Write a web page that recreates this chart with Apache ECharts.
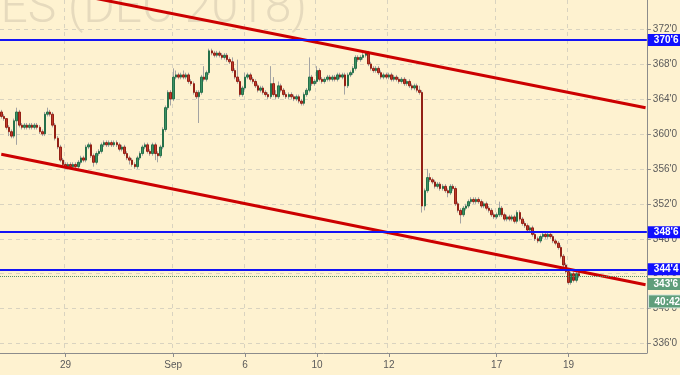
<!DOCTYPE html>
<html><head><meta charset="utf-8">
<script src="https://cdn.jsdelivr.net/npm/echarts@6/dist/echarts.min.js"></script>
<style>html,body{margin:0;padding:0;background:#fef2d0}#c{width:680px;height:375px}</style>
</head><body><div id="c"></div>
<script>
// ---- data ----
const dayLabels = ['29', 'Sep', '6', '10', '12', '17', '19'];
const labelSlots = [25, 67, 95, 123, 151, 193, 221];
const slotCount = 252;
const yTicks = [336, 340, 344, 348, 352, 356, 360, 364, 368, 372];
const yMin = 334.93, yMax = 375.32;
const levels = [370.75, 348.75, 344.5];
const lastPrice = 343.75;
const timerText = '40:42';
const watermark = 'CORN FUTURES (DEC 2018)';
const trendSlots = [0, 251];
const upperTrend = [377.65, 363.0];
const lowerTrend = [357.66, 342.73];

const opens = [
362.5,362.0,361.75,360.75,360.25,359.75,361.5,362.5,361.0,360.75,
361.0,360.75,361.0,360.75,361.0,360.75,360.25,360.0,362.25,362.5,
362.25,361.0,359.5,358.5,357.0,356.5,356.25,356.5,356.25,356.5,
356.25,356.75,357.25,357.0,358.5,358.75,357.5,356.75,357.75,358.0,
358.75,359.0,358.75,359.0,358.75,359.0,358.75,358.25,358.5,357.75,
357.25,357.0,356.5,356.25,357.25,357.75,358.5,358.75,358.0,357.75,
358.75,357.75,357.5,358.5,360.5,363.0,364.75,364.0,366.5,366.75,
366.5,366.75,366.5,366.75,366.0,365.75,364.75,364.25,364.75,366.5,
366.25,367.0,369.5,369.25,369.0,369.25,369.0,368.75,369.0,368.5,
368.25,367.25,366.5,366.0,364.5,365.25,366.5,366.75,366.25,366.0,
365.5,365.0,365.25,364.75,364.5,364.25,365.75,364.5,364.25,365.5,
365.0,364.5,364.25,364.5,364.25,364.0,364.25,363.75,363.5,364.5,
365.0,366.5,365.75,366.0,367.25,366.25,366.0,366.25,366.5,366.25,
366.5,366.25,366.75,366.5,366.75,365.5,366.75,367.0,367.5,368.75,
368.5,368.75,369.0,369.25,368.0,367.5,367.25,367.5,367.0,366.5,
366.75,366.5,366.75,366.25,366.5,366.25,366.0,366.25,365.75,366.0,
365.5,365.25,365.5,365.0,364.75,351.75,353.5,355.0,354.75,354.5,
354.0,354.25,353.75,354.0,353.5,353.25,354.0,353.75,352.0,351.25,
350.75,351.5,351.75,352.25,352.5,352.25,352.5,352.25,351.75,352.0,
351.5,351.25,350.75,350.5,350.75,351.5,350.75,350.25,350.5,350.25,
350.5,350.0,351.0,350.25,349.75,349.5,349.0,349.25,348.5,348.0,
347.75,348.25,348.5,348.25,348.5,348.25,347.75,347.5,347.0,346.0,
345.0,344.25,343.0,344.0,343.25,344.0
];
const closes = [
362.0,361.75,360.75,360.25,359.75,361.5,362.5,361.0,360.75,361.0,
360.75,361.0,360.75,361.0,360.75,360.25,360.0,362.25,362.5,362.25,
361.0,359.5,358.5,357.0,356.5,356.25,356.5,356.25,356.5,356.25,
356.75,357.25,357.0,358.5,358.75,357.5,356.75,357.75,358.0,358.75,
359.0,358.75,359.0,358.75,359.0,358.75,358.25,358.5,357.75,357.25,
357.0,356.5,356.25,357.25,357.75,358.5,358.75,358.0,357.75,358.75,
357.75,357.5,358.5,360.5,363.0,364.75,364.0,366.5,366.75,366.5,
366.75,366.5,366.75,366.0,365.75,364.75,364.25,364.75,366.5,366.25,
367.0,369.5,369.25,369.0,369.25,369.0,368.75,369.0,368.5,368.25,
367.25,366.5,366.0,364.5,365.25,366.5,366.75,366.25,366.0,365.5,
365.0,365.25,364.75,364.5,364.25,365.75,364.5,364.25,365.5,365.0,
364.5,364.25,364.5,364.25,364.0,364.25,363.75,363.5,364.5,365.0,
366.5,365.75,366.0,367.25,366.25,366.0,366.25,366.5,366.25,366.5,
366.25,366.75,366.5,366.75,365.5,366.75,367.0,367.5,368.75,368.5,
368.75,369.0,369.25,368.0,367.5,367.25,367.5,367.0,366.5,366.75,
366.5,366.75,366.25,366.5,366.25,366.0,366.25,365.75,366.0,365.5,
365.25,365.5,365.0,364.75,351.75,353.5,355.0,354.75,354.5,354.0,
354.25,353.75,354.0,353.5,353.25,354.0,353.75,352.0,351.25,350.75,
351.5,351.75,352.25,352.5,352.25,352.5,352.25,351.75,352.0,351.5,
351.25,350.75,350.5,350.75,351.5,350.75,350.25,350.5,350.25,350.5,
350.0,351.0,350.25,349.75,349.5,349.0,349.25,348.5,348.0,347.75,
348.25,348.5,348.25,348.5,348.25,347.75,347.5,347.0,346.0,345.0,
344.25,343.0,344.0,343.25,344.0,343.75
];
const lows = [
361.75,361.5,360.5,359.75,359.5,359.5,358.75,360.75,360.5,360.5,
360.5,360.5,360.5,360.5,360.5,360.0,359.75,359.75,362.0,362.0,
360.75,359.25,358.25,356.75,356.25,356.0,356.0,356.0,356.0,356.0,
356.0,356.5,356.75,356.75,358.25,357.25,356.25,356.5,357.5,357.75,
358.5,358.5,358.5,358.5,358.5,358.5,358.0,358.0,357.5,357.0,
356.5,356.25,356.0,356.0,357.0,357.5,358.25,357.75,357.5,357.5,
357.0,356.75,357.25,358.25,360.25,362.75,363.25,363.75,366.25,366.25,
366.25,366.25,366.25,365.75,365.5,364.5,364.0,361.25,364.5,366.0,
366.0,366.75,369.0,368.75,368.75,368.75,368.5,368.5,368.25,368.0,
367.0,366.25,365.75,364.25,364.25,365.0,366.25,366.0,365.75,365.25,
364.75,364.75,364.5,364.25,364.0,364.0,364.25,364.0,364.0,364.75,
364.25,364.0,364.0,364.0,363.75,363.75,363.5,363.25,363.25,364.25,
364.75,365.5,365.5,365.75,366.0,365.75,365.75,366.0,366.0,366.0,
366.0,366.0,366.25,366.25,364.5,365.25,366.5,366.75,367.25,368.25,
368.25,368.5,368.75,367.75,367.25,367.0,367.0,366.75,366.25,366.25,
366.25,366.25,366.0,366.0,366.0,365.75,365.75,365.5,365.5,365.25,
365.0,365.0,364.75,364.5,351.0,351.25,353.25,354.5,354.25,353.75,
353.75,353.5,353.5,353.25,352.75,353.0,353.5,351.75,351.0,349.75,
350.5,351.25,351.5,352.0,352.0,352.0,352.0,351.5,351.5,351.25,
351.0,350.5,350.25,350.25,350.5,350.5,350.0,350.0,350.0,350.0,
349.75,349.75,350.0,349.5,349.25,348.75,348.75,348.25,347.75,347.5,
347.5,348.0,348.0,348.0,348.0,347.5,347.25,346.75,345.75,344.75,
344.0,342.75,342.75,343.0,343.0,343.5
];
const highs = [
362.75,362.25,361.75,361.0,360.5,361.75,363.0,362.75,361.25,361.25,
361.25,361.25,361.25,361.25,361.25,361.0,360.5,362.5,363.0,362.75,
362.5,361.25,359.75,358.75,357.25,356.75,356.75,356.75,356.75,356.75,
357.0,357.5,357.5,358.75,359.0,359.0,357.75,358.0,358.25,359.0,
359.25,359.25,359.25,359.25,359.25,359.25,359.0,358.75,358.75,358.0,
357.5,357.25,356.75,357.5,358.0,358.75,359.0,359.0,358.25,359.0,
359.0,358.0,358.75,360.75,363.25,365.0,365.0,367.5,367.25,367.0,
367.0,367.25,367.0,367.0,366.25,366.0,365.0,365.0,366.75,367.75,
367.25,369.75,369.75,369.5,369.5,369.5,369.25,369.25,369.25,368.75,
368.75,367.5,368.5,366.25,365.5,367.0,367.0,367.0,366.5,366.25,
365.75,365.5,365.5,365.0,364.75,367.75,366.5,365.0,366.0,365.75,
365.25,364.75,364.75,364.75,364.5,364.5,364.5,364.0,364.75,365.25,
368.75,366.75,366.25,367.75,367.5,366.5,366.5,366.75,366.75,366.75,
366.75,367.0,367.0,367.0,367.0,367.0,367.25,367.75,369.0,369.0,
369.0,369.25,369.5,369.5,368.25,367.75,367.75,367.75,367.25,367.0,
367.0,367.0,367.0,366.75,366.75,366.5,366.5,366.5,366.25,366.25,
365.75,365.75,365.75,365.5,365.0,353.75,356.0,355.5,355.0,354.75,
354.5,354.5,354.25,354.25,353.75,354.25,354.25,354.0,352.25,351.5,
351.75,352.0,352.5,352.75,352.75,352.75,352.75,352.5,352.25,352.25,
351.75,351.5,351.0,351.0,352.25,351.75,351.0,350.75,350.75,350.75,
350.75,351.25,351.25,350.5,350.0,349.75,349.5,349.5,348.75,348.25,
348.5,348.75,348.75,348.75,348.75,348.5,348.0,347.75,347.25,346.25,
345.25,344.5,344.25,344.25,344.25,344.25
];

// ---- helpers ----
function fmt(v) { const w = Math.floor(v); return w + "'" + Math.round((v - w) * 8); }
const isLabelSlot = (i) => labelSlots.indexOf(i) >= 0;
const slots = Array.from({ length: slotCount }, (_, i) => 's' + i);
const fullBars = opens.map((o, i) => [o, closes[i], lows[i], highs[i]]);
const bodyBars = opens.map((o, i) => [o, closes[i], Math.min(o, closes[i]), Math.max(o, closes[i])]);

const chart = echarts.init(document.getElementById('c'), null, { renderer: 'canvas' });
const axisColor = '#8c8c8c';
const gridColor = '#d9d3c0';
const labelFont = { color: '#5a5a5a', fontSize: 10, fontFamily: 'Liberation Sans, Arial, sans-serif' };

chart.setOption({
  animation: false,
  backgroundColor: '#fef2d0',
  grid: { left: 0, right: 33, top: 0, bottom: 22 },
  xAxis: {
    type: 'category', data: slots, boundaryGap: true,
    axisLine: { lineStyle: { color: axisColor, width: 1 } },
    axisTick: { show: true, alignWithLabel: true, interval: (i) => isLabelSlot(i), length: 4, lineStyle: { color: axisColor } },
    axisLabel: Object.assign({ interval: (i) => isLabelSlot(i), margin: 7,
      formatter: (v, i) => { const k = labelSlots.indexOf(i); return k >= 0 ? dayLabels[k] : ''; } }, labelFont),
    splitLine: { show: true, interval: (i) => isLabelSlot(i), lineStyle: { color: gridColor, type: [4, 4], width: 1 } }
  },
  yAxis: {
    type: 'value', position: 'right', min: yMin, max: yMax, scale: true,
    axisLine: { show: true, lineStyle: { color: axisColor, width: 1 } },
    axisTick: { show: true, customValues: yTicks, length: 4, lineStyle: { color: axisColor } },
    axisLabel: Object.assign({ customValues: yTicks, margin: 6, formatter: (v) => fmt(v) }, labelFont),
    splitLine: { show: true, lineStyle: { color: gridColor, type: [4, 4], width: 1 } }
  },
  series: [
    {
      type: 'candlestick', name: 'wick', data: fullBars, barWidth: 1, z: 2, silent: true,
      itemStyle: { color: '#a3a3a3', color0: '#a3a3a3', borderColor: '#a3a3a3', borderColor0: '#a3a3a3', borderWidth: 1 }
    },
    {
      type: 'candlestick', name: 'body', data: bodyBars, barWidth: 2, z: 3, silent: true,
      itemStyle: { color: '#3c9162', color0: '#bf3a2b', borderColor: '#25704a', borderColor0: '#932015', borderWidth: 1 },
      markLine: {
        silent: true, symbol: ['none', 'none'], animation: false, z: 6,
        data: levels.map(v => ({
          yAxis: v,
          lineStyle: { color: '#1414f5', width: 2, type: 'solid' },
          label: { show: true, position: 'end', distance: 1, formatter: fmt(v), backgroundColor: '#1010ff',
                   color: '#ffffff', fontWeight: 'bold', fontSize: 10, lineHeight: 11,
                   fontFamily: 'Liberation Sans, Arial, sans-serif', padding: [1, 6, 0, 6] }
        })).concat([{
          yAxis: lastPrice,
          lineStyle: { color: '#4f8f6a', width: 1, type: 'dotted' },
          label: { show: false }
        }])
      }
    },
    {
      type: 'line', name: 'upper', data: trendSlots.map((s, i) => [s, upperTrend[i]]), symbol: 'none', z: 5,
      lineStyle: { color: '#cc0000', width: 3 }, silent: true, clip: true
    },
    {
      type: 'line', name: 'lower', data: trendSlots.map((s, i) => [s, lowerTrend[i]]), symbol: 'none', z: 5,
      lineStyle: { color: '#cc0000', width: 3 }, silent: true, clip: true
    }
  ]
});

const py = chart.convertToPixel({ yAxisIndex: 0 }, lastPrice);
const ax = chart.convertToPixel({ xAxisIndex: 0 }, slotCount - 1) + 2;
chart.setOption({
  graphic: [
    { type: 'text', id: 'wm', z: -1, silent: true,
      style: { text: watermark, x: 307, y: 10, align: 'right', verticalAlign: 'middle',
               font: '300 48px Roboto, "Liberation Sans", sans-serif', fill: '#e6dabd' } },
    { type: 'rect', id: 'pbox', z: 10, shape: { x: ax, y: py + 2, width: 40, height: 12 }, style: { fill: '#5f9e7b' } },
    { type: 'text', id: 'ptxt', z: 11, style: { text: fmt(lastPrice), x: ax + 6, y: py + 8, verticalAlign: 'middle',
      font: 'bold 10px "Liberation Sans", Arial, sans-serif', fill: '#ffffff' } },
    { type: 'rect', id: 'tbox', z: 10, shape: { x: ax + 1, y: py + 19, width: 40, height: 13 },
      style: { fill: '#5f9e7b', stroke: '#d6e8dc', lineWidth: 1 } },
    { type: 'text', id: 'ttxt', z: 11, style: { text: timerText, x: ax + 7, y: py + 26, verticalAlign: 'middle',
      font: 'bold 10px "Liberation Sans", Arial, sans-serif', fill: '#ffffff' } }
  ]
});
</script>
</body></html>
